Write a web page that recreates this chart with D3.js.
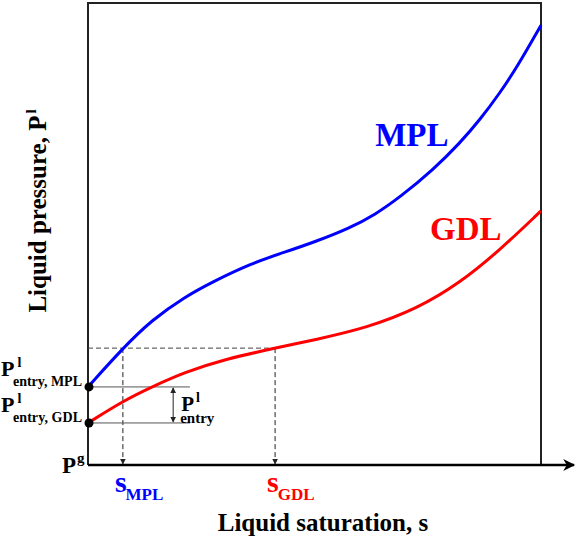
<!DOCTYPE html>
<html>
<head>
<meta charset="utf-8">
<script src="https://cdn.jsdelivr.net/npm/d3@7"></script>
<style>
  body { margin: 0; background: #fff; }
  text { font-family: "Liberation Serif", "Times New Roman", serif; font-weight: bold; }
</style>
</head>
<body>
<div id="container"></div>
<script>
// saturation s (%) and liquid pressure P (arbitrary units)
const mplS = [0, 7.7, 14.1, 21.4, 27.4, 36.2, 43.5, 50.1, 57.8, 63.4, 68.9, 76.2, 82.1, 86.5, 90.9, 94.7, 100];
const mplP = [16.9, 25.3, 31.4, 36.4, 39.6, 43.7, 46.1, 48.3, 51.3, 54.2, 58.0, 63.9, 69.7, 74.7, 80.5, 86.1, 95.2];
const gdlS = [0, 8.2, 14.1, 21.4, 30.2, 41.3, 50.1, 61.6, 72.6, 82.1, 90.9, 100];
const gdlP = [9.1, 14.1, 16.9, 20.1, 22.9, 25.3, 27.1, 29.7, 33.8, 39.4, 46.5, 55.0];

// entry pressures and the common pressure level
const entryP = { MPL: 16.9, GDL: 9.1 };
const levelP = 25.3;
const levelS = { MPL: 7.7, GDL: 41.3 };

const margin = { left: 88, top: 3, right: 40, bottom: 82 };
const width = 581 - margin.left - margin.right;
const height = 547 - margin.top - margin.bottom;

const x = d3.scaleLinear().domain([0, 100]).range([0, width]);
const y = d3.scaleLinear().domain([0, 100]).range([height, 0]);

const svg = d3.select("#container")
    .append("svg")
    .attr("width", 581)
    .attr("height", 547);

const defs = svg.append("defs");
defs.append("marker")
    .attr("id", "arrow")
    .attr("viewBox", "0 0 10 10")
    .attr("refX", 9).attr("refY", 5)
    .attr("markerWidth", 6).attr("markerHeight", 6)
    .attr("markerUnits", "userSpaceOnUse")
    .attr("orient", "auto-start-reverse")
    .append("path")
    .attr("d", "M0,0 L10,5 L0,10 z")
    .attr("fill", "#222");
defs.append("marker")
    .attr("id", "bigArrow")
    .attr("viewBox", "0 0 10 10")
    .attr("refX", 9).attr("refY", 5)
    .attr("markerWidth", 16).attr("markerHeight", 12)
    .attr("markerUnits", "userSpaceOnUse")
    .attr("orient", "auto")
    .append("path")
    .attr("d", "M0,0 L10,5 L0,10 L3,5 z")
    .attr("fill", "#000");

const g = svg.append("g")
    .attr("transform", `translate(${margin.left}, ${margin.top})`);

// frame
g.append("path")
    .attr("d", `M0,${height} V0 H${width} V${height}`)
    .attr("fill", "none")
    .attr("stroke", "#222")
    .attr("stroke-width", 2);
// x axis with arrow
g.append("line")
    .attr("x1", 0).attr("x2", width + 33)
    .attr("y1", height).attr("y2", height)
    .attr("stroke", "#000")
    .attr("stroke-width", 2.5)
    .attr("marker-end", "url(#bigArrow)");

// dashed guides
g.append("line")
    .attr("x1", x(0)).attr("x2", x(levelS.GDL))
    .attr("y1", y(levelP)).attr("y2", y(levelP))
    .attr("stroke", "#444").attr("stroke-width", 1)
    .attr("stroke-dasharray", "5,3");
["MPL", "GDL"].forEach(k => {
  g.append("line")
      .attr("x1", x(levelS[k])).attr("x2", x(levelS[k]))
      .attr("y1", y(levelP)).attr("y2", y(0) - 1)
      .attr("stroke", "#222").attr("stroke-width", 1)
      .attr("stroke-dasharray", "5,3")
      .attr("marker-end", "url(#arrow)");
});

// entry pressure levels
["MPL", "GDL"].forEach(k => {
  g.append("line")
      .attr("x1", x(0)).attr("x2", x(22.5))
      .attr("y1", y(entryP[k])).attr("y2", y(entryP[k]))
      .attr("stroke", "#555").attr("stroke-width", 1);
});
g.append("line")
    .attr("x1", x(18.8)).attr("x2", x(18.8))
    .attr("y1", y(entryP.MPL) + 1).attr("y2", y(entryP.GDL) - 1)
    .attr("stroke", "#222").attr("stroke-width", 1)
    .attr("marker-start", "url(#arrow)")
    .attr("marker-end", "url(#arrow)");

// curves
const line = d3.line()
    .x(d => x(d[0]))
    .y(d => y(d[1]))
    .curve(d3.curveBasis);

g.append("path")
    .datum(mplS.map((s, i) => [s, mplP[i]]))
    .attr("d", line)
    .attr("fill", "none")
    .attr("stroke", "#0000ff")
    .attr("stroke-width", 3);
g.append("path")
    .datum(gdlS.map((s, i) => [s, gdlP[i]]))
    .attr("d", line)
    .attr("fill", "none")
    .attr("stroke", "#ff0000")
    .attr("stroke-width", 3);

// entry dots
g.selectAll(".dot")
    .data([entryP.MPL, entryP.GDL])
    .join("circle")
    .attr("cx", x(0) + 1)
    .attr("cy", d => y(d))
    .attr("r", 4.5)
    .attr("fill", "#000");

// series labels
g.append("text")
    .attr("x", x(63.4)).attr("y", y(69))
    .attr("font-size", 33)
    .attr("fill", "#0000ff")
    .text("MPL");
g.append("text")
    .attr("x", x(75.5)).attr("y", y(48.7))
    .attr("font-size", 33)
    .attr("fill", "#ff0000")
    .text("GDL");

// P^l_entry between the two levels
const pe = g.append("text")
    .attr("x", x(18.8) + 8)
    .attr("y", y(entryP.MPL) + 24)
    .attr("font-size", 21)
    .attr("fill", "#000");
pe.append("tspan").text("P");
pe.append("tspan").attr("font-size", 14).attr("dy", -9).attr("dx", 2).text("l");
g.append("text")
    .attr("x", x(18.8) + 7)
    .attr("y", y(entryP.MPL) + 36)
    .attr("font-size", 15)
    .text("entry");

// left-side pressure labels
const sideLabel = (p, sub) => {
  const t = svg.append("text")
      .attr("x", 1)
      .attr("y", margin.top + y(p) - 11)
      .attr("font-size", 22);
  t.append("tspan").text("P");
  t.append("tspan").attr("font-size", 14).attr("dy", -9).attr("dx", 3).text("l");
  svg.append("text")
      .attr("x", 13)
      .attr("y", margin.top + y(p) - 1)
      .attr("font-size", 14)
      .attr("textLength", 69)
      .text(sub);
};
sideLabel(entryP.MPL, "entry, MPL");
sideLabel(entryP.GDL, "entry, GDL");

const pg = svg.append("text")
    .attr("x", 62)
    .attr("y", margin.top + y(0) + 8)
    .attr("font-size", 23);
pg.append("tspan").text("P");
pg.append("tspan").attr("font-size", 15).attr("dy", -10).attr("dx", 1).text("g");

// saturation labels
const satLabel = (k, color) => {
  const t = g.append("text")
      .attr("x", x(levelS[k]) - 8)
      .attr("y", y(0) + 27)
      .attr("font-size", 30)
      .attr("fill", color);
  t.append("tspan").text("s");
  t.append("tspan").attr("font-size", 17).attr("dy", 8).attr("dx", -1).text(k);
};
satLabel("MPL", "#0000ff");
satLabel("GDL", "#ff0000");

// axis titles
svg.append("text")
    .attr("x", 323)
    .attr("y", 531)
    .attr("text-anchor", "middle")
    .attr("font-size", 25)
    .text("Liquid saturation, s");

const yt = svg.append("text")
    .attr("transform", "translate(46, 211) rotate(-90)")
    .attr("text-anchor", "middle")
    .attr("font-size", 25);
yt.append("tspan").text("Liquid pressure, P");
yt.append("tspan").attr("font-size", 15).attr("dy", -10).attr("dx", 2).text("l");
</script>
</body>
</html>
